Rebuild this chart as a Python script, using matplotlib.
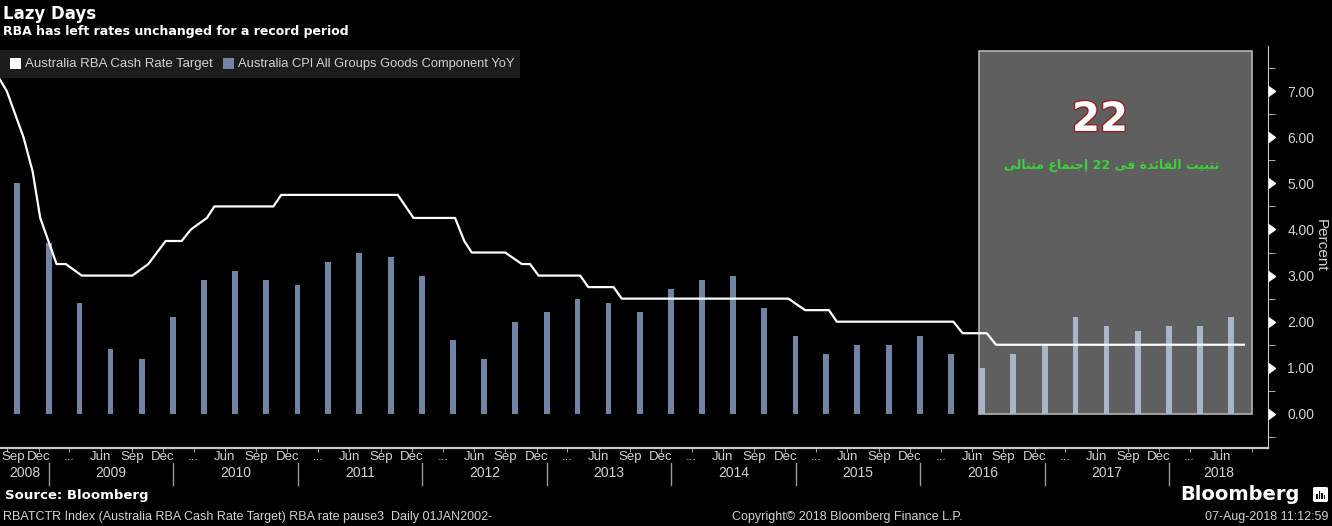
import pandas as pd
import matplotlib
matplotlib.use("Agg")
import matplotlib.pyplot as plt
import matplotlib.dates as mdates
import matplotlib.patheffects as pe
from matplotlib.patches import Rectangle, FancyBboxPatch

# RBA cash rate target (vertices of the line as drawn)
rate_dates = ["2008-08-10", "2008-08-30", "2008-10-18", "2008-11-14", "2008-12-06",
              "2009-01-23", "2009-02-19", "2009-04-07", "2009-09-02", "2009-10-19",
              "2009-12-09", "2010-01-25", "2010-02-21", "2010-04-09", "2010-05-01",
              "2010-10-21", "2010-11-13", "2011-10-21", "2011-12-06", "2012-04-06",
              "2012-05-03", "2012-05-25", "2012-08-31", "2012-10-19", "2012-11-12",
              "2012-12-07", "2013-04-08", "2013-05-02", "2013-07-15", "2013-08-08",
              "2014-12-10", "2015-01-28", "2015-04-08", "2015-05-01", "2016-04-07",
              "2016-05-04", "2016-07-14", "2016-08-10", "2018-08-07"]
rate_values = [7.25, 7.00, 6.00, 5.25, 4.25,
               3.25, 3.25, 3.00, 3.00, 3.25,
               3.75, 3.75, 4.00, 4.25, 4.50,
               4.50, 4.75, 4.75, 4.25, 4.25,
               3.75, 3.50, 3.50, 3.25, 3.25,
               3.00, 3.00, 2.75, 2.75, 2.50,
               2.50, 2.25, 2.25, 2.00, 2.00,
               1.75, 1.75, 1.50, 1.50]

# CPI all groups goods component YoY, quarterly Sep 2008 .. Jun 2018
cpi_quarters = pd.period_range("2008Q3", "2018Q2", freq="Q")
cpi_values = [5.0, 3.7, 2.4, 1.4, 1.2, 2.1, 2.9, 3.1, 2.9, 2.8,
              3.3, 3.5, 3.4, 3.0, 1.6, 1.2, 2.0, 2.2, 2.5, 2.4,
              2.2, 2.7, 2.9, 3.0, 2.3, 1.7, 1.3, 1.5, 1.5, 1.7,
              1.3, 1.0, 1.3, 1.5, 2.1, 1.9, 1.8, 1.9, 1.9, 2.1]

# highlighted period
box_start, box_end, box_top = "2016-06-21", "2018-09-01", 7.88

x_start, x_end = "2008-08-10", "2018-10-17"
y_ticks = [0, 1, 2, 3, 4, 5, 6, 7]
month_names = {3: "...", 6: "Jun", 9: "Sep", 12: "Dec"}
years = list(range(2008, 2019))

W, H = 1332, 526
fig = plt.figure(figsize=(W / 100, H / 100), dpi=100, facecolor="black")


def fx(x):
    return x / W


def fy(y):
    return 1 - y / H


narrow = ["Liberation Sans", "DejaVu Sans"]
grey = "#d2d2d2"

ax = fig.add_axes([0, fy(448), fx(1268), (448 - 46) / H])
ax.set_facecolor("black")

rate_x = pd.to_datetime(rate_dates)
cpi_x = cpi_quarters.to_timestamp(how="end").normalize()
b0, b1 = pd.Timestamp(box_start), pd.Timestamp(box_end)

# shaded box
ax.add_patch(Rectangle((mdates.date2num(b0), 0), (b1 - b0).days, box_top,
                       facecolor="#5f5f5f", edgecolor="#b4b4b4", lw=1.2, zorder=1))

bar_colors = ["#a9b5ca" if d >= b0 else "#7084a6" for d in cpi_x]
ax.bar(cpi_x, cpi_values, width=17, color=bar_colors, zorder=2)
ax.plot(rate_x, rate_values, color="white", lw=1.6, zorder=3)

ax.set_xlim(pd.Timestamp(x_start), pd.Timestamp(x_end))
ax.set_ylim(-0.74, 7.98)

for s in ["left", "top"]:
    ax.spines[s].set_visible(False)
ax.spines["right"].set_color("#c8c8c8")
ax.spines["bottom"].set_color("#c8c8c8")
ax.spines["bottom"].set_linewidth(1.6)

# y axis on the right
ax.yaxis.tick_right()
ax.set_yticks(y_ticks)
ax.set_yticklabels([f"{v:.2f}" for v in y_ticks], family=narrow, fontsize=10, color=grey)
ax.set_yticks([v + 0.5 for v in y_ticks] + [-0.5], minor=True)
ax.tick_params(axis="y", which="major", length=0, pad=14)
ax.tick_params(axis="y", which="minor", length=5, color="#c8c8c8", direction="out")
ax.plot([1] * len(y_ticks), y_ticks, marker=9, ms=7, color="white", ls="none",
        transform=ax.get_yaxis_transform(), clip_on=False, zorder=5)
fig.text(fx(1321), fy(245), "Percent", rotation=270, ha="center", va="center",
         family=narrow, fontsize=11, color=grey)

# x axis: hand-made Bloomberg style labels
ax.set_xticks([])
xt = ax.get_xaxis_transform()
lo, hi = pd.Timestamp(x_start), pd.Timestamp(x_end)
last = rate_x[-1]
tick_pos = []
for yr in years:
    for m, name in month_names.items():
        d = pd.Timestamp(yr, m, 1)
        if d < lo or d > hi:
            continue
        tick_pos.append(d)
        if d > last:
            continue
        if (d - lo).days < 25:
            d = lo + pd.Timedelta(days=40)
        ax.text(d, -0.022, name, transform=xt, ha="center", va="center",
                family=narrow, fontsize=9.5, color=grey)
    y0 = max(pd.Timestamp(yr, 1, 1), lo)
    y1 = min(pd.Timestamp(yr, 12, 31), hi)
    ax.text(y0 + (y1 - y0) / 2, -0.063, str(yr), transform=xt, ha="center", va="center",
            family=narrow, fontsize=10, color=grey)
    if pd.Timestamp(yr, 1, 1) > lo:
        ax.plot([pd.Timestamp(yr, 1, 1)] * 2, [-0.037, -0.092], transform=xt,
                color="#9a9a9a", lw=1, clip_on=False)
ax.set_xticks(tick_pos, minor=True)
ax.tick_params(axis="x", which="minor", length=3, color="#c8c8c8", direction="out")

# annotations in the box
ax.text(0.8675, 0.816, "22", transform=ax.transAxes, ha="center", va="center",
        fontsize=29, fontweight="bold", color="white", family="DejaVu Sans",
        path_effects=[pe.withStroke(linewidth=2, foreground="#9b1c1c")], zorder=6)

ar_forms = {  # isolated, final, initial, medial
    "ا": ("\uFE8D", "\uFE8E", None, None),
    "إ": ("\uFE87", "\uFE88", None, None),
    "ب": ("\uFE8F", "\uFE90", "\uFE91", "\uFE92"),
    "ة": ("\uFE93", "\uFE94", None, None),
    "ت": ("\uFE95", "\uFE96", "\uFE97", "\uFE98"),
    "ث": ("\uFE99", "\uFE9A", "\uFE9B", "\uFE9C"),
    "ج": ("\uFE9D", "\uFE9E", "\uFE9F", "\uFEA0"),
    "د": ("\uFEA9", "\uFEAA", None, None),
    "ع": ("\uFEC9", "\uFECA", "\uFECB", "\uFECC"),
    "ف": ("\uFED1", "\uFED2", "\uFED3", "\uFED4"),
    "ل": ("\uFEDD", "\uFEDE", "\uFEDF", "\uFEE0"),
    "م": ("\uFEE1", "\uFEE2", "\uFEE3", "\uFEE4"),
    "ي": ("\uFEF1", "\uFEF2", "\uFEF3", "\uFEF4"),
    "ى": ("\uFEEF", "\uFEF0", None, None),
    "ئ": ("\uFE89", "\uFE8A", "\uFE8B", "\uFE8C"),
}


def shape_word(w):
    # matplotlib has no arabic shaping: pick presentation forms, reverse for display
    if not all(c in ar_forms for c in w):
        return w
    out = []
    for i, c in enumerate(w):
        f = ar_forms[c]
        prev = i > 0 and ar_forms[w[i - 1]][2] is not None
        nxt = i < len(w) - 1 and f[2] is not None
        if prev and nxt:
            out.append(f[3])
        elif prev:
            out.append(f[1])
        elif nxt:
            out.append(f[2])
        else:
            out.append(f[0])
    return "".join(reversed(out))


ar_text = "تثبيت الفائدة فى 22 إجتماع متتالى"
ar_visual = " ".join(shape_word(w) for w in reversed(ar_text.split()))
ax.text(0.877, 0.7015, ar_visual, transform=ax.transAxes, ha="center", va="center",
        fontsize=9, fontweight="bold", color="#3ad13a", family="DejaVu Sans", zorder=6)

# titles
fig.text(fx(3), fy(14), "Lazy Days", ha="left", va="center", fontsize=12,
         fontweight="bold", color="white")
fig.text(fx(3), fy(32), "RBA has left rates unchanged for a record period", ha="left",
         va="center", fontsize=9, fontweight="bold", color="white")

# legend strip
fig.patches.append(Rectangle((0, fy(78)), fx(520), 28 / H, transform=fig.transFigure,
                             facecolor="#1c1c1c", edgecolor="none", zorder=4))
fig.patches.append(Rectangle((fx(10), fy(69)), fx(11), 11 / H, transform=fig.transFigure,
                             facecolor="white", edgecolor="none", zorder=5))
fig.text(fx(25), fy(64), "Australia RBA Cash Rate Target", ha="left", va="center",
         family=narrow, fontsize=9.5, color=grey, zorder=6)
fig.patches.append(Rectangle((fx(223), fy(69)), fx(11), 11 / H, transform=fig.transFigure,
                             facecolor="#7084a6", edgecolor="none", zorder=5))
fig.text(fx(238), fy(64), "Australia CPI All Groups Goods Component YoY", ha="left",
         va="center", family=narrow, fontsize=9.3, color=grey, zorder=6)

# footer
fig.text(fx(5), fy(495), "Source: Bloomberg", ha="left", va="center", fontsize=9.5,
         fontweight="bold", color="white")
fig.text(fx(3), fy(517), "RBATCTR Index (Australia RBA Cash Rate Target) RBA rate pause3  Daily 01JAN2002-",
         ha="left", va="center", family=narrow, fontsize=9, color=grey)
fig.text(fx(732), fy(517), "Copyright\u00a9 2018 Bloomberg Finance L.P.", ha="left",
         va="center", family=narrow, fontsize=9, color=grey)
fig.text(fx(1328), fy(517), "07-Aug-2018 11:12:59", ha="right", va="center",
         family=narrow, fontsize=9, color=grey)
fig.text(fx(1300), fy(494), "Bloomberg", ha="right", va="center", fontsize=14,
         fontweight="bold", color="white", family="DejaVu Sans")
fig.patches.append(FancyBboxPatch((fx(1313), fy(502)), fx(15), 15 / H,
                                  boxstyle="round,pad=0,rounding_size=0.002",
                                  transform=fig.transFigure, facecolor="white",
                                  edgecolor="none"))
for i, h in enumerate([5, 8, 6, 4]):
    fig.patches.append(Rectangle((fx(1316 + 2.6 * i), fy(499)), fx(1.5), h / H,
                                 transform=fig.transFigure, facecolor="black",
                                 edgecolor="none"))

fig.savefig("out.png", dpi=100, facecolor="black")
